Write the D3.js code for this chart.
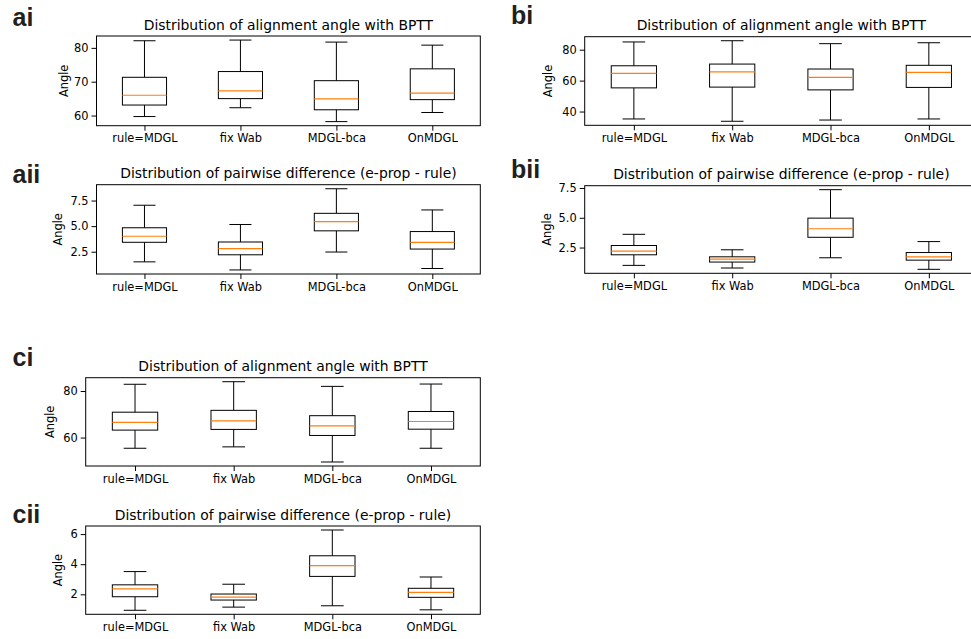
<!DOCTYPE html>
<html>
<head>
<meta charset="utf-8">
<script src="https://cdn.jsdelivr.net/npm/d3@7"></script>
<style>
  html, body { margin: 0; padding: 0; background: #fff; }
  svg { display: block; }
  .tick text { font-family: "DejaVu Sans", sans-serif; font-size: 11.4px; fill: #000; }
  .tick line { stroke: #000; }
</style>
</head>
<body>
<script>
// Method names shown on every x axis
const categories = ["rule=MDGL", "fix Wab", "MDGL-bca", "OnMDGL"];

// Box statistics per method: [lower whisker, Q1, median, Q3, upper whisker]
const angleA = [[59.7, 63.1, 66.0, 71.3, 82.1], [62.3, 65.0, 67.3, 73.0, 82.3], [58.2, 61.7, 64.9, 70.3, 81.7], [60.9, 64.7, 66.6, 73.8, 80.8]];
const diffA  = [[1.51, 3.42, 4.01, 4.84, 7.04], [0.72, 2.20, 2.80, 3.45, 5.16], [2.47, 4.54, 5.43, 6.25, 8.65], [0.86, 2.76, 3.42, 4.47, 6.58]];
const angleB = [[35.2, 55.3, 64.7, 69.6, 85.0], [33.7, 55.8, 65.7, 70.7, 85.8], [34.5, 54.0, 62.1, 67.5, 83.9], [35.2, 55.6, 65.3, 69.9, 84.5]];
const diffB  = [[1.00, 1.89, 2.19, 2.67, 3.61], [0.78, 1.28, 1.53, 1.72, 2.31], [1.64, 3.36, 4.08, 4.97, 7.36], [0.67, 1.44, 1.72, 2.08, 3.00]];
const angleC = [[55.4, 63.2, 66.5, 70.9, 82.9], [56.0, 63.5, 67.2, 71.7, 84.0], [49.5, 60.9, 65.0, 69.4, 82.0], [55.4, 63.6, 66.9, 71.2, 83.0]];
const diffC  = [[0.94, 1.84, 2.36, 2.63, 3.51], [1.15, 1.62, 1.82, 2.02, 2.67], [1.24, 3.19, 3.91, 4.56, 6.27], [0.97, 1.80, 2.13, 2.40, 3.15]];

// Tick labels on the y axes
const angleTicksA = [60, 70, 80];
const angleTicksB = [40, 60, 80];
const angleTicksC = [60, 80];
const diffTicksAB = [2.5, 5.0, 7.5];
const diffTicksC  = [2, 4, 6];

const titleAngle = "Distribution of alignment angle with BPTT";
const titleDiff  = "Distribution of pairwise difference (e-prop - rule)";

const W = 971, H = 639;
const svg = d3.select("body").append("svg").attr("width", W).attr("height", H);

// Plot frames and label anchors for each subplot
const panels = [
  { label: "ai",  stats: angleA, ticks: angleTicksA, fmt: d3.format("d"),   title: titleAngle,
    left: 96.5, right: 480.3, top: 36, bottom: 125.7, yLabelX: 67.5, tagX: 12.5, tagY: 26 },
  { label: "aii", stats: diffA,  ticks: diffTicksAB, fmt: d3.format(".1f"), title: titleDiff,
    left: 96.5, right: 480.3, top: 184.7, bottom: 274, yLabelX: 62.4, tagX: 12.5, tagY: 183.3 },
  { label: "bi",  stats: angleB, ticks: angleTicksB, fmt: d3.format("d"),   title: titleAngle,
    left: 584.7, right: 978, top: 36.7, bottom: 125.3, yLabelX: 552.4, tagX: 511, tagY: 23.5 },
  { label: "bii", stats: diffB,  ticks: diffTicksAB, fmt: d3.format(".1f"), title: titleDiff,
    left: 584.7, right: 978, top: 185.7, bottom: 273.3, yLabelX: 550.7, tagX: 511, tagY: 178.3 },
  { label: "ci",  stats: angleC, ticks: angleTicksC, fmt: d3.format("d"),   title: titleAngle,
    left: 85.7, right: 480.3, top: 377.7, bottom: 466, yLabelX: 54.1, tagX: 12.5, tagY: 365.7 },
  { label: "cii", stats: diffC,  ticks: diffTicksC,  fmt: d3.format("d"),   title: titleDiff,
    left: 85.7, right: 480.3, top: 526, bottom: 614.3, yLabelX: 62.4, tagX: 12.5, tagY: 523.3 }
];

const boxWidth = 0.46;      // in category units
const capWidth = boxWidth / 2;
const medianColor = "#ff7f0e";

panels.forEach(p => {
  const g = svg.append("g");

  const x = d3.scaleLinear().domain([0.5, 4.5]).range([p.left, p.right]);

  // y range: data extent with 5% padding on both ends
  const lo = d3.min(p.stats, s => s[0]);
  const hi = d3.max(p.stats, s => s[4]);
  const pad = (hi - lo) * 0.05;
  const y = d3.scaleLinear().domain([lo - pad, hi + pad]).range([p.bottom, p.top]);

  // boxes
  const boxes = g.selectAll("g.box").data(p.stats).join("g").attr("class", "box");
  boxes.each(function (s, i) {
    const b = d3.select(this);
    const cx = x(i + 1);
    const hw = (x(boxWidth) - x(0)) / 2;
    const cw = (x(capWidth) - x(0)) / 2;
    // whiskers
    b.append("line").attr("x1", cx).attr("x2", cx).attr("y1", y(s[0])).attr("y2", y(s[1]))
      .attr("stroke", "#000").attr("stroke-width", 1);
    b.append("line").attr("x1", cx).attr("x2", cx).attr("y1", y(s[3])).attr("y2", y(s[4]))
      .attr("stroke", "#000").attr("stroke-width", 1);
    // caps
    b.append("line").attr("x1", cx - cw).attr("x2", cx + cw).attr("y1", y(s[0])).attr("y2", y(s[0]))
      .attr("stroke", "#000").attr("stroke-width", 1);
    b.append("line").attr("x1", cx - cw).attr("x2", cx + cw).attr("y1", y(s[4])).attr("y2", y(s[4]))
      .attr("stroke", "#000").attr("stroke-width", 1);
    // interquartile box
    b.append("rect").attr("x", cx - hw).attr("width", 2 * hw)
      .attr("y", y(s[3])).attr("height", y(s[1]) - y(s[3]))
      .attr("fill", "none").attr("stroke", "#000").attr("stroke-width", 1);
    // median
    b.append("line").attr("x1", cx - hw).attr("x2", cx + hw).attr("y1", y(s[2])).attr("y2", y(s[2]))
      .attr("stroke", medianColor).attr("stroke-width", 1.2);
  });

  // frame
  g.append("rect").attr("x", p.left).attr("y", p.top)
    .attr("width", p.right - p.left).attr("height", p.bottom - p.top)
    .attr("fill", "none").attr("stroke", "#000").attr("stroke-width", 1);

  // y axis
  const ya = g.append("g").attr("transform", `translate(${p.left},0)`)
    .call(d3.axisLeft(y).tickValues(p.ticks).tickFormat(p.fmt).tickSize(5).tickPadding(3));
  ya.select(".domain").remove();

  // x axis
  const xa = g.append("g").attr("transform", `translate(0,${p.bottom})`)
    .call(d3.axisBottom(x).tickValues([1, 2, 3, 4]).tickFormat(d => categories[d - 1]).tickSize(5).tickPadding(3.5));
  xa.select(".domain").remove();

  // title
  g.append("text").attr("x", (p.left + p.right) / 2).attr("y", p.top - 6.5)
    .attr("text-anchor", "middle")
    .style("font-family", "DejaVu Sans, sans-serif").style("font-size", "13.9px").attr("fill", "#000")
    .text(p.title);

  // y label
  g.append("text")
    .attr("transform", `translate(${p.yLabelX},${(p.top + p.bottom) / 2}) rotate(-90)`)
    .attr("text-anchor", "middle")
    .style("font-family", "DejaVu Sans, sans-serif").style("font-size", "11.4px").attr("fill", "#000")
    .text("Angle");

  // panel tag
  svg.append("text").attr("x", p.tagX).attr("y", p.tagY)
    .style("font-family", "Liberation Sans, sans-serif").style("font-weight", "700").style("font-size", "25px")
    .attr("fill", "#231f20")
    .text(p.label);
});
</script>
</body>
</html>
